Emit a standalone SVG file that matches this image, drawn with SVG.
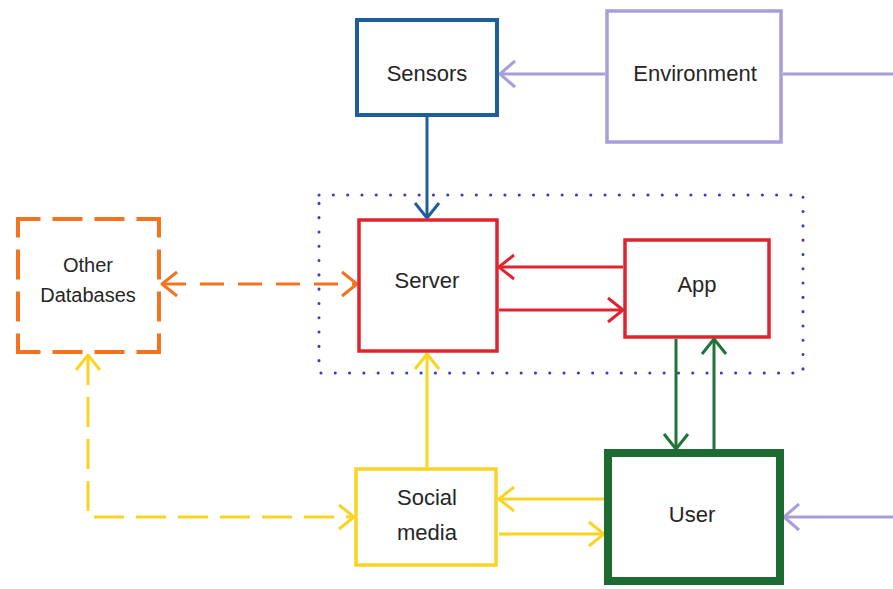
<svg xmlns="http://www.w3.org/2000/svg" width="893" height="589" viewBox="0 0 893 589">
  <defs>
    <style>
      .box { fill: #ffffff; }
      .lbl { font-family: "Liberation Sans", Arial, sans-serif; font-size: 22px; fill: #262626; text-anchor: middle; }
      .lbl-s { font-size: 20px; }
      .ln { fill: none; stroke-width: 3; }
      .blue { stroke: #1E5E9B; }
      .lav { stroke: #A99DDA; }
      .red { stroke: #E0242F; }
      .org { stroke: #F4731F; }
      .yel { stroke: #F9D423; }
      .grn { stroke: #1E7538; }
    </style>
    <marker id="a-blue" markerUnits="userSpaceOnUse" viewBox="-20 -16 24 32" markerWidth="24" markerHeight="32" refX="0" refY="0" orient="auto-start-reverse"><path d="M-15,-12 L0,0 L-15,12" fill="none" stroke="#1E5E9B" stroke-width="3" stroke-linejoin="round"/></marker>
    <marker id="a-lav" markerUnits="userSpaceOnUse" viewBox="-20 -16 24 32" markerWidth="24" markerHeight="32" refX="0" refY="0" orient="auto-start-reverse"><path d="M-15,-13 L0,0 L-15,13" fill="none" stroke="#A99DDA" stroke-width="3" stroke-linejoin="round"/></marker>
    <marker id="a-red" markerUnits="userSpaceOnUse" viewBox="-20 -16 24 32" markerWidth="24" markerHeight="32" refX="0" refY="0" orient="auto-start-reverse"><path d="M-15,-12 L0,0 L-15,12" fill="none" stroke="#E0242F" stroke-width="3" stroke-linejoin="round"/></marker>
    <marker id="a-org" markerUnits="userSpaceOnUse" viewBox="-20 -16 24 32" markerWidth="24" markerHeight="32" refX="0" refY="0" orient="auto-start-reverse"><path d="M-15,-12 L0,0 L-15,12" fill="none" stroke="#F4731F" stroke-width="3" stroke-linejoin="round"/></marker>
    <marker id="a-yel" markerUnits="userSpaceOnUse" viewBox="-20 -16 24 32" markerWidth="24" markerHeight="32" refX="0" refY="0" orient="auto-start-reverse"><path d="M-15,-12 L0,0 L-15,12" fill="none" stroke="#F9D423" stroke-width="3" stroke-linejoin="round"/></marker>
    <marker id="a-grn" markerUnits="userSpaceOnUse" viewBox="-20 -16 24 32" markerWidth="24" markerHeight="32" refX="0" refY="0" orient="auto-start-reverse"><path d="M-15,-12 L0,0 L-15,12" fill="none" stroke="#1E7538" stroke-width="3" stroke-linejoin="round"/></marker>
  </defs>

  <rect width="893" height="589" fill="#ffffff"/>

  <!-- dotted grouping boundary -->
  <g id="boundary">
    <rect x="319" y="195" width="484" height="178" fill="none" stroke="#3A3AC8" stroke-width="3" stroke-linecap="round" stroke-dasharray="0.1 14.2"/>
  </g>

  <g id="connectors">
    <line class="ln lav" x1="605" y1="74" x2="500" y2="74" marker-end="url(#a-lav)"/>
    <line class="ln lav" x1="783" y1="74" x2="893" y2="74"/>
    <line class="ln blue" x1="427" y1="117" x2="427" y2="218" marker-end="url(#a-blue)"/>
    <line class="ln red" x1="623" y1="267" x2="499" y2="267" marker-end="url(#a-red)"/>
    <line class="ln red" x1="499" y1="310" x2="623" y2="310" marker-end="url(#a-red)"/>
    <line class="ln org" x1="162" y1="284" x2="357" y2="284" stroke-dasharray="24 14" marker-start="url(#a-org)" marker-end="url(#a-org)"/>
    <path class="ln yel" d="M88,355 V517 H354" stroke-dasharray="30 12" marker-start="url(#a-yel)" marker-end="url(#a-yel)"/>
    <line class="ln yel" x1="427" y1="467" x2="427" y2="354" marker-end="url(#a-yel)"/>
    <line class="ln yel" x1="604" y1="499" x2="499" y2="499" marker-end="url(#a-yel)"/>
    <line class="ln yel" x1="499" y1="534" x2="604" y2="534" marker-end="url(#a-yel)"/>
    <line class="ln grn" x1="676" y1="339" x2="676" y2="449" marker-end="url(#a-grn)"/>
    <line class="ln grn" x1="714" y1="449" x2="714" y2="339" marker-end="url(#a-grn)"/>
    <line class="ln lav" x1="893" y1="517" x2="784" y2="517" marker-end="url(#a-lav)"/>
  </g>

  <g id="sensors">
    <rect class="box" x="357" y="20" width="140" height="95" stroke="#1E5E9B" stroke-width="4"/>
    <text class="lbl" x="427" y="81">Sensors</text>
  </g>

  <g id="environment">
    <rect class="box" x="607" y="11" width="174" height="131" stroke="#A99DDA" stroke-width="3.5"/>
    <text class="lbl" x="695" y="81">Environment</text>
  </g>

  <g id="server">
    <rect class="box" x="359" y="220" width="138" height="131" stroke="#E0242F" stroke-width="3.5"/>
    <text class="lbl" x="427" y="288">Server</text>
  </g>

  <g id="app">
    <rect class="box" x="625" y="240" width="144" height="97" stroke="#E0242F" stroke-width="3.5"/>
    <text class="lbl" x="697" y="292">App</text>
  </g>

  <g id="other-databases">
    <rect class="box" x="18" y="219" width="141" height="133"/>
    <g fill="none" stroke="#F4731F" stroke-width="4">
      <line x1="16" y1="219" x2="161" y2="219" stroke-dasharray="24.5 12 30 12 30 12 24.5 0"/>
      <line x1="16" y1="352" x2="161" y2="352" stroke-dasharray="24.5 12 30 12 30 12 24.5 0"/>
      <line x1="18" y1="217" x2="18" y2="354" stroke-dasharray="20.5 12 30 12 30 12 20.5 0"/>
      <line x1="159" y1="217" x2="159" y2="354" stroke-dasharray="20.5 12 30 12 30 12 20.5 0"/>
    </g>
    <text class="lbl lbl-s" x="88" y="272">Other</text>
    <text class="lbl lbl-s" x="88" y="302">Databases</text>
  </g>

  <g id="social-media">
    <rect class="box" x="356" y="469" width="140" height="96" stroke="#F9D423" stroke-width="3.5"/>
    <text class="lbl" x="427" y="505">Social</text>
    <text class="lbl" x="427" y="540">media</text>
  </g>

  <g id="user">
    <rect class="box" x="608" y="453" width="172" height="128" stroke="#1B6B33" stroke-width="8"/>
    <text class="lbl" x="692" y="522">User</text>
  </g>
</svg>
